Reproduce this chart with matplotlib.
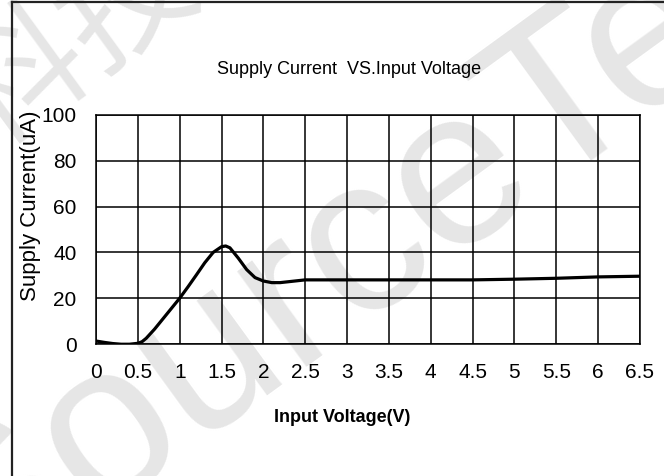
import matplotlib.pyplot as plt
from matplotlib.lines import Line2D

# values
voltage = [0, 0.1, 0.2, 0.3, 0.4, 0.5, 0.55, 0.6, 0.7, 0.8, 0.9, 1.0, 1.1, 1.2,
           1.3, 1.4, 1.5, 1.55, 1.6, 1.7, 1.8, 1.9, 2.0, 2.1, 2.2, 2.3, 2.4, 2.5,
           3.0, 3.5, 4.0, 4.5, 5.0, 5.5, 6.0, 6.5]
current = [1.3, 0.7, 0.2, -0.1, -0.1, 0.3, 1.0, 2.5, 6.5, 11.0, 15.5, 20.0, 25.0,
           30.2, 35.5, 40.0, 42.5, 42.8, 42.0, 37.5, 32.5, 29.0, 27.5, 26.8, 26.8,
           27.2, 27.6, 28.0, 28.0, 28.0, 28.0, 28.0, 28.3, 28.7, 29.3, 29.6]

x_ticks = [0, 0.5, 1, 1.5, 2, 2.5, 3, 3.5, 4, 4.5, 5, 5.5, 6, 6.5]
x_labels = ['0', '0.5', '1', '1.5', '2', '2.5', '3', '3.5', '4', '4.5', '5', '5.5', '6', '6.5']
y_ticks = [0, 20, 40, 60, 80, 100]

plt.rcParams['font.family'] = ['Liberation Sans', 'DejaVu Sans']

fig = plt.figure(figsize=(6.64, 4.76), dpi=100)
W, H = 664, 476

# faint watermark behind everything
fig.text(-26 / W, 1 - 601 / H, 'SourceTech', fontsize=160, color='#e6e6e6',
         rotation=36, rotation_mode='anchor', ha='left', va='baseline', zorder=-10)
fig.text(-10 / W, 1 - 150 / H, '科技', fontsize=95, color='#e6e6e6',
         rotation=36, rotation_mode='anchor', ha='left', va='baseline', zorder=-10,
         family=['Noto Sans CJK SC', 'DejaVu Sans'])

# page frame (left and top edges)
fig.add_artist(Line2D([12 / W, 12 / W], [0, 1 - 2 / H], color='#222222', lw=1.6,
                      transform=fig.transFigure))
fig.add_artist(Line2D([12 / W, 1], [1 - 2 / H, 1 - 2 / H], color='#222222', lw=1.6,
                      transform=fig.transFigure))

ax = fig.add_axes([96 / W, 1 - 344 / H, (640 - 96) / W, (344 - 115) / H])
ax.patch.set_alpha(0)
ax.plot(voltage, current, color='black', lw=2.3, solid_capstyle='round', zorder=3)

ax.set_xlim(0, 6.5)
ax.set_ylim(0, 100)
ax.set_xticks(x_ticks)
ax.set_xticklabels(x_labels)
ax.set_yticks(y_ticks)
ax.tick_params(length=0, labelsize=15, pad=14)
ax.grid(True, color='black', lw=1.1)
for s in ax.spines.values():
    s.set_linewidth(1.1)

fig.text(349 / W, 1 - 70 / H, 'Supply Current  VS.Input Voltage', ha='center', va='center',
         fontsize=13)
fig.text(342 / W, 1 - 418 / H, 'Input Voltage(V)', ha='center', va='center',
         fontsize=13, fontweight='bold')
fig.text(31 / W, 1 - 206 / H, 'Supply Current(uA)', ha='center', va='center',
         rotation=90, fontsize=16)

fig.savefig('out.png', dpi=100)
